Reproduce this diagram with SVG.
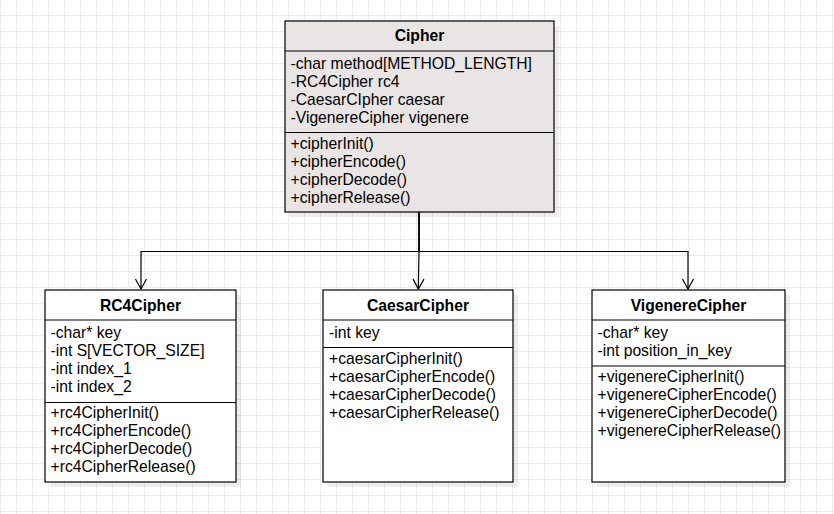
<svg xmlns="http://www.w3.org/2000/svg" width="834" height="514" viewBox="0 0 834 514">
<defs>
<pattern id="grid" width="16" height="16" patternUnits="userSpaceOnUse" x="0" y="-1">
<path d="M0.5 0V16M0 0.5H16" fill="none" stroke="#ebebeb" stroke-width="1"/>
</pattern>
<marker id="open" markerWidth="14" markerHeight="14" viewBox="0 0 14 14" refX="12" refY="7" orient="auto" markerUnits="userSpaceOnUse">
<path d="M2 1.5L12 7L2 12.5" fill="none" stroke="#000" stroke-width="1.2"/>
</marker>
</defs>
<style>
.box{fill:#fff;stroke:#000;stroke-width:1.2}
.shadow{fill:#000;opacity:0.07}
.sep{stroke:#000;stroke-width:1.2}
.t{font-family:"Liberation Sans",Arial,sans-serif;font-size:15.7px;fill:#000}
.title{font-weight:bold;text-anchor:middle}
.edge{fill:none;stroke:#000;stroke-width:1.2}
</style>
<rect width="834" height="514" fill="#fff"/>
<rect width="834" height="514" fill="url(#grid)"/>

<g id="edges">
<path class="edge" d="M419 212V251.5H141V289" marker-end="url(#open)"/>
<path class="edge" d="M419 212V251.5L418.3 289" marker-end="url(#open)"/>
<path class="edge" d="M419 212V251.5H688V289" marker-end="url(#open)"/>
</g>

<g id="Cipher">
<rect class="shadow" x="290" y="26" width="269" height="191"/>
<rect class="box" x="285" y="21" width="269" height="191" style="fill:#eae5e5"/>
<line class="sep" x1="285" y1="51" x2="554" y2="51"/>
<line class="sep" x1="285" y1="132.5" x2="554" y2="132.5"/>
<text class="t title" x="419.5" y="41">Cipher</text>
<text class="t" x="290.5" y="69">-char method[METHOD_LENGTH]</text>
<text class="t" x="290.5" y="87">-RC4Cipher rc4</text>
<text class="t" x="290.5" y="105">-CaesarCIpher caesar</text>
<text class="t" x="290.5" y="123">-VigenereCipher vigenere</text>
<text class="t" x="290.5" y="149">+cipherInit()</text>
<text class="t" x="290.5" y="167">+cipherEncode()</text>
<text class="t" x="290.5" y="185">+cipherDecode()</text>
<text class="t" x="290.5" y="203">+cipherRelease()</text>
</g>

<g id="RC4Cipher">
<rect class="shadow" x="50" y="295" width="191" height="192"/>
<rect class="box" x="45" y="290" width="191" height="192"/>
<line class="sep" x1="45" y1="320" x2="236" y2="320"/>
<line class="sep" x1="45" y1="402.5" x2="236" y2="402.5"/>
<text class="t title" x="140.5" y="310.5">RC4Cipher</text>
<text class="t" x="50.5" y="338">-char* key</text>
<text class="t" x="50.5" y="356">-int S[VECTOR_SIZE]</text>
<text class="t" x="50.5" y="374">-int index_1</text>
<text class="t" x="50.5" y="392">-int index_2</text>
<text class="t" x="50.5" y="418">+rc4CipherInit()</text>
<text class="t" x="50.5" y="436">+rc4CipherEncode()</text>
<text class="t" x="50.5" y="454">+rc4CipherDecode()</text>
<text class="t" x="50.5" y="472">+rc4CipherRelease()</text>
</g>

<g id="CaesarCipher">
<rect class="shadow" x="328" y="295" width="190" height="192"/>
<rect class="box" x="323" y="290" width="190" height="192"/>
<line class="sep" x1="323" y1="320" x2="513" y2="320"/>
<line class="sep" x1="323" y1="347.5" x2="513" y2="347.5"/>
<text class="t title" x="418" y="310.5">CaesarCipher</text>
<text class="t" x="329" y="338">-int key</text>
<text class="t" x="329" y="364">+caesarCipherInit()</text>
<text class="t" x="329" y="382">+caesarCipherEncode()</text>
<text class="t" x="329" y="400">+caesarCipherDecode()</text>
<text class="t" x="329" y="418">+caesarCipherRelease()</text>
</g>

<g id="VigenereCipher">
<rect class="shadow" x="597" y="295" width="193" height="192"/>
<rect class="box" x="592" y="290" width="193" height="192"/>
<line class="sep" x1="592" y1="320" x2="785" y2="320"/>
<line class="sep" x1="592" y1="366" x2="785" y2="366"/>
<text class="t title" x="688.5" y="310.5">VigenereCipher</text>
<text class="t" x="597.5" y="338">-char* key</text>
<text class="t" x="597.5" y="356">-int position_in_key</text>
<text class="t" x="597.5" y="382">+vigenereCipherInit()</text>
<text class="t" x="597.5" y="400">+vigenereCipherEncode()</text>
<text class="t" x="597.5" y="418">+vigenereCipherDecode()</text>
<text class="t" x="597.5" y="436">+vigenereCipherRelease()</text>
</g>
</svg>
